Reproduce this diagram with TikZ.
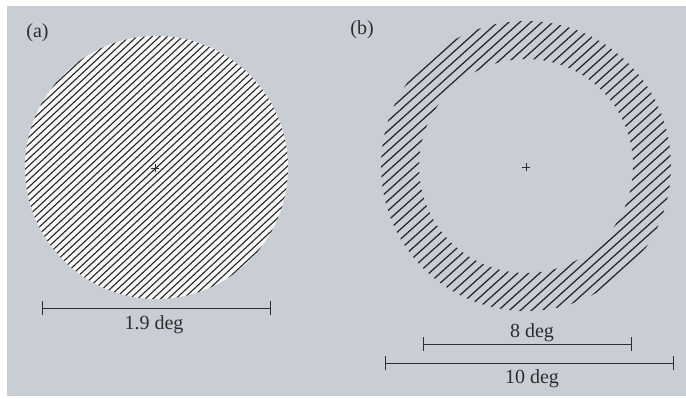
\documentclass[tikz,border=0pt]{standalone}
\usepackage{fontspec}
\setmainfont{Liberation Serif}
\usetikzlibrary{arrows.meta}
\definecolor{bggray}{RGB}{200,206,212}
\definecolor{inkc}{RGB}{38,38,40}
\definecolor{txtc}{RGB}{45,45,48}
\definecolor{discw}{RGB}{246,246,246}
\tikzset{
  hatchA/.style={line width=1.1pt, draw=inkc},
  hatchB/.style={line width=1.25pt, draw=inkc},
  scalebar/.style={line width=1pt, draw=txtc, {Bar[width=14pt,line width=1pt]}-{Bar[width=14pt,line width=1pt]}},
  lbl/.style={font=\fontsize{20}{23}\selectfont, text=txtc, inner sep=0pt},
  crossmark/.style={line width=0.9pt, draw=txtc}
}
\begin{document}
\begin{tikzpicture}[x=1pt,y=1pt]
\useasboundingbox (0,0) rectangle (686,-399);
\fill[white] (0,0) rectangle (686,-399);
\fill[bggray] (7,-6) rectangle (686,-396);

% (a) disc with fine grating
\coordinate (ca) at (156.5,-167.5);
\fill[discw] (ca) circle (131.5);
\begin{scope}
  \clip (ca) circle (131.5);
  \begin{scope}[shift={(ca)}, rotate=43]
    \foreach \k in {-26,...,26} \draw[hatchA] (-140,\k*5.2) -- (140,\k*5.2);
  \end{scope}
\end{scope}
\draw[crossmark] (151,-168) -- (159,-168) (155,-164) -- (155,-172);

% (b) annulus with coarser grating
\coordinate (cb) at (526,-166);
\begin{scope}[even odd rule]
  \clip (cb) circle (145) (cb) circle (107);
  \begin{scope}[shift={(cb)}, rotate=42]
    \foreach \k in {-20,...,20} \draw[hatchB] (-150,\k*7.4) -- (150,\k*7.4);
  \end{scope}
\end{scope}
\draw[crossmark] (522,-167) -- (530,-167) (526,-163) -- (526,-171);

% labels
\node[lbl] (la) at (37.5,-33) {(a)};
\node[lbl] (lb) at (362,-30) {(b)};

% scale bars
\coordinate (a1) at (42,-308);
\coordinate (a2) at (271,-308);
\draw[scalebar] (a1) -- (a2);
\node[lbl, anchor=base] (ta) at (154,-329) {1.9 deg};

\coordinate (b1) at (423,-344);
\coordinate (b2) at (632,-344);
\draw[scalebar] (b1) -- (b2);
\node[lbl, anchor=base] (tb) at (532,-337) {8 deg};

\coordinate (c1) at (385,-363);
\coordinate (c2) at (674,-363);
\draw[scalebar] (c1) -- (c2);
\node[lbl, anchor=base] (tc) at (532,-383) {10 deg};
\end{tikzpicture}
\end{document}
